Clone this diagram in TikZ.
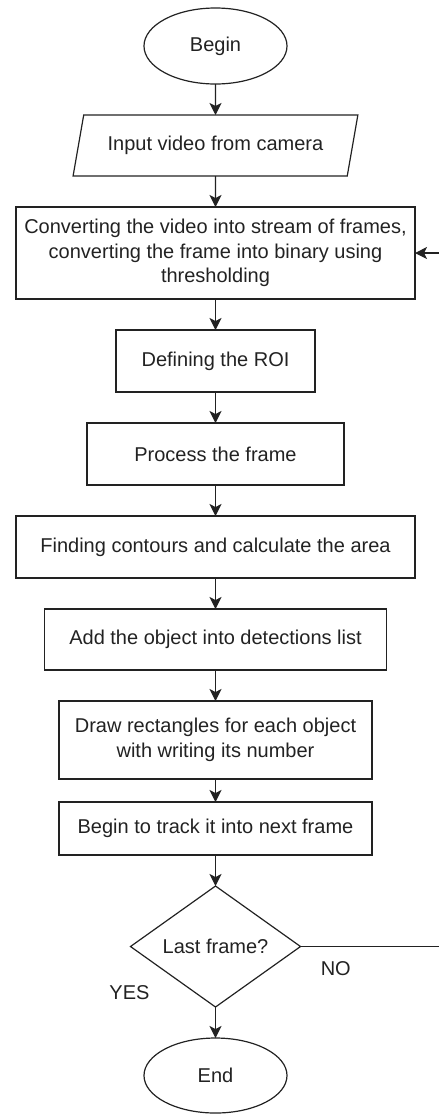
\documentclass[tikz,border=0pt]{standalone}
\usepackage{fontspec}
\setmainfont{Liberation Sans}
\usetikzlibrary{arrows.meta,positioning,shapes.geometric}
\definecolor{trazo}{HTML}{222222}

\begin{document}
\begin{tikzpicture}[font=\fontsize{10}{12.2}\selectfont,color=trazo,line width=0.6pt,
          caja/.style={draw,rectangle,minimum height=31pt,inner sep=2pt,outer sep=0pt,align=center},
          borde/.style={draw,ellipse,minimum width=71.5pt,minimum height=38pt,inner sep=0pt,outer sep=0pt},
          entrada/.style={draw,trapezium,trapezium left angle=65,trapezium right angle=115,
            trapezium stretches=true,minimum width=142.5pt,minimum height=30.5pt,inner sep=0pt,outer sep=0pt},
          pregunta/.style={draw,diamond,minimum width=85pt,minimum height=60.5pt,inner sep=0pt,outer sep=0pt},
          flecha/.style={-{Stealth[length=6pt,width=6pt,inset=1.5pt]}},
          node distance=15.5pt]
        \useasboundingbox (0,0) rectangle (219.5pt,-557.5pt);
        \node[borde] (inicio) at (107.75pt,-23pt) {Begin};
        \node[entrada,below=of inicio] (video) {Input video from camera};
        \node[caja,below=of video,minimum width=199.5pt,minimum height=46pt] (conv) {Converting the video into stream of frames,\\converting the frame into binary using\\thresholding};
        \node[caja,below=of conv,minimum width=99.5pt] (roi) {Defining the ROI};
        \node[caja,below=of roi,minimum width=128.5pt] (proc) {Process the frame};
        \node[caja,below=of proc,minimum width=199.5pt] (cont) {Finding contours and calculate the area};
        \node[caja,below=of cont,minimum width=171pt,minimum height=30.5pt] (lista) {Add the object into detections list};
        \node[caja,below=of lista,minimum width=156.5pt,minimum height=39pt] (rect) {Draw rectangles for each object\\with writing its number};
        \node[caja,below=11.5pt of rect,minimum width=156.5pt,minimum height=26.5pt] (seguir) {Begin to track it into next frame};
        \node[pregunta,below=of seguir] (ultimo) {Last frame?};
        \node[borde,below=of ultimo,minimum height=37.5pt] (fin) {End};
        \draw[flecha] (inicio) -- (video);
        \draw[flecha] (video) -- (conv);
        \draw[flecha] (conv) -- (roi);
        \draw[flecha] (roi) -- (proc);
        \draw[flecha] (proc) -- (cont);
        \draw[flecha] (cont) -- (lista);
        \draw[flecha] (lista) -- (rect);
        \draw[flecha] (rect) -- (seguir);
        \draw[flecha] (seguir) -- (ultimo);
        \draw[flecha] (ultimo) -- (fin);
        % la vuelta del NO se corta en el borde derecho: solo los dos tramos horizontales
        \coordinate (orilla) at (219.5pt,0);
        \coordinate (nosale) at (ultimo.east -| orilla);
        \coordinate (vuelve) at (conv.east -| orilla);
        \draw (ultimo.east) -- (nosale);
        \draw[flecha] (vuelve) -- (conv.east);
        \node[anchor=west] (no) at ([xshift=6.5pt,yshift=-11pt]ultimo.east) {NO};
        \node (si) at ([xshift=-0.5pt,yshift=-23pt]ultimo.west) {YES};
      \end{tikzpicture}
\end{document}
